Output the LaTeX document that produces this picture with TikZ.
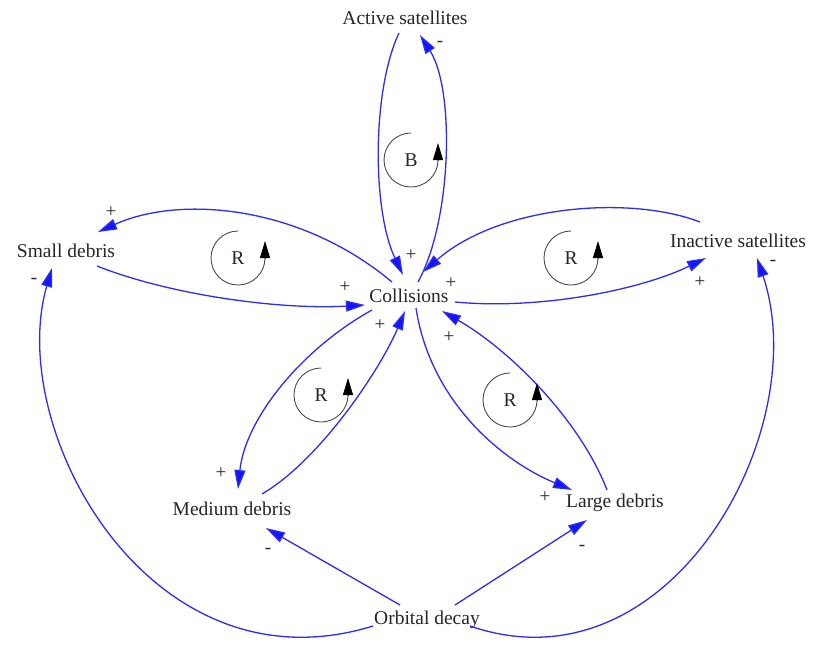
\documentclass[tikz,border=0pt]{standalone}
\usepackage{fontspec}
\setmainfont{Liberation Serif}
\usetikzlibrary{arrows.meta,calc}
\begin{document}
\begin{tikzpicture}[x=1pt,y=-1pt,
  var/.style={inner sep=0pt,text=black!85,font=\fontsize{19.5}{22}\selectfont},
  pol/.style={inner sep=0pt,text=black!85,font=\fontsize{19}{21}\selectfont},
  link/.style={draw={rgb,255:red,45;green,45;blue,240},line width=1.3pt,
     -{Triangle[length=19pt,width=11pt,fill={rgb,255:red,20;green,20;blue,255}]}},
  loopc/.style={draw=black!70,line width=0.9pt},
  looptip/.style={draw=black!70,line width=0.9pt,-{Triangle[length=17pt,width=10pt,color=black]}},
  looplab/.style={inner sep=0pt,text=black!85,font=\fontsize{19.5}{22}\selectfont}]
\useasboundingbox (0,0) rectangle (814,649);
\fill[white] (0,0) rectangle (814,649);

% variables
\node[var] (act) at (405,18) {Active satellites};
\node[var] (sma) at (66,251) {Small debris};
\node[var] (col) at (409,296) {Collisions};
\node[var] (ina) at (738,241) {Inactive satellites};
\node[var] (med) at (232,509) {Medium debris};
\node[var] (lar) at (615,503) {Large debris};
\node[var] (dec) at (427,620) {Orbital decay};

% links
\draw[link] ($(col)+(9,-14)$) .. controls (452,220) and (455,90) .. ($(act)+(15,17)$);
\draw[link] ($(act)+(-6,15)$) .. controls (372,90) and (372,210) .. ($(col)+(-6,-21)$);
\draw[link] ($(ina)+(-38,-19)$) .. controls (630,195) and (500,205) .. ($(col)+(14,-24)$);
\draw[link] ($(col)+(46,6)$) .. controls (540,310) and (640,290) .. ($(ina)+(-32,17)$);
\draw[link] ($(col)+(-17,-14)$) .. controls (300,205) and (180,195) .. ($(sma)+(32,-19)$);
\draw[link] ($(sma)+(31,15)$) .. controls (170,295) and (280,310) .. ($(col)+(-44,9)$);
\draw[link] ($(col)+(-37,14)$) .. controls (300,350) and (245,420) .. ($(med)+(6,-20)$);
\draw[link] ($(med)+(30,-15)$) .. controls (320,460) and (380,370) .. ($(col)+(-4,15)$);
\draw[link] ($(col)+(7,12)$) .. controls (430,400) and (500,460) .. ($(lar)+(-43,-13)$);
\draw[link] ($(lar)+(-8,-13)$) .. controls (580,420) and (510,350) .. ($(col)+(33,15)$);
\draw[link] ($(dec)+(-27,-15)$) -- ($(med)+(34,19)$);
\draw[link] ($(dec)+(28,-15)$) -- ($(lar)+(-28,17)$);
\draw[link] ($(dec)+(-54,6)$) .. controls (150,695) and (5,430) .. ($(sma)+(-14,17)$);
\draw[link] ($(dec)+(43,6)$) .. controls (670,695) and (815,430) .. ($(ina)+(19,17)$);

% polarities
\node[pol] at (440,44) {-};
\node[pol] at (411,255) {+};
\node[pol] at (451,283) {+};
\node[pol] at (700,282) {+};
\node[pol] at (111,212) {+};
\node[pol] at (345,287) {+};
\node[pol] at (221,473) {+};
\node[pol] at (380,325) {+};
\node[pol] at (449,337) {+};
\node[pol] at (545,497) {+};
\node[pol] at (268,551) {-};
\node[pol] at (582,548) {-};
\node[pol] at (34,281) {-};
\node[pol] at (773,263) {-};

% loop markers
\node[looplab] (lb) at (411,160) {B};
\draw[loopc] ($(lb)+(0,-27)$) arc[start angle=270,end angle=0,radius=27];
\draw[looptip] ($(lb)+(27,1)$) -- ($(lb)+(27,-17)$);
\node[looplab] (l1) at (238,258) {R};
\draw[loopc] ($(l1)+(0,-27)$) arc[start angle=270,end angle=0,radius=27];
\draw[looptip] ($(l1)+(27,1)$) -- ($(l1)+(27,-17)$);
\node[looplab] (l2) at (571,258) {R};
\draw[loopc] ($(l2)+(0,-27)$) arc[start angle=270,end angle=0,radius=27];
\draw[looptip] ($(l2)+(27,1)$) -- ($(l2)+(27,-17)$);
\node[looplab] (l3) at (321,395) {R};
\draw[loopc] ($(l3)+(0,-27)$) arc[start angle=270,end angle=0,radius=27];
\draw[looptip] ($(l3)+(27,1)$) -- ($(l3)+(27,-17)$);
\node[looplab] (l4) at (510,400) {R};
\draw[loopc] ($(l4)+(0,-27)$) arc[start angle=270,end angle=0,radius=27];
\draw[looptip] ($(l4)+(27,1)$) -- ($(l4)+(27,-17)$);
\end{tikzpicture}
\end{document}
